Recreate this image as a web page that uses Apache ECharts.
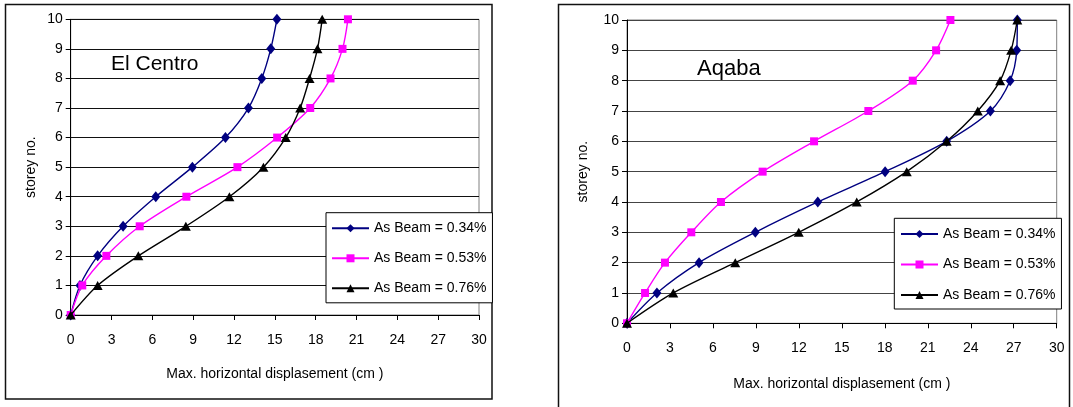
<!DOCTYPE html>
<html>
<head>
<meta charset="utf-8">
<script src="https://cdn.jsdelivr.net/npm/echarts@6/dist/echarts.min.js"></script>
<style>
html,body{margin:0;padding:0;background:#fff;}
#chart{width:1073px;height:407px;}
</style>
</head>
<body>
<div id="chart"></div>
<script>
// ---- data ----
const storeys = [0, 1, 2, 3, 4, 5, 6, 7, 8, 9, 10];
const seriesNames = ['As Beam = 0.34%', 'As Beam = 0.53%', 'As Beam = 0.76%'];
const elCentro034 = [0, 0.68, 1.98, 3.85, 6.25, 8.94, 11.37, 13.06, 14.04, 14.7, 15.15];
const elCentro053 = [0, 0.85, 2.62, 5.07, 8.5, 12.25, 15.17, 17.6, 19.09, 19.97, 20.37];
const elCentro076 = [0, 1.98, 4.97, 8.46, 11.66, 14.16, 15.8, 16.86, 17.55, 18.13, 18.48];
const aqaba034 = [0, 2.09, 5.03, 8.96, 13.32, 18.02, 22.32, 25.37, 26.75, 27.21, 27.25];
const aqaba053 = [0, 1.26, 2.65, 4.49, 6.56, 9.47, 13.06, 16.85, 19.95, 21.58, 22.58];
const aqaba076 = [0, 3.23, 7.56, 11.99, 16.04, 19.53, 22.32, 24.49, 26.05, 26.82, 27.25];
const xTicks = [0, 3, 6, 9, 12, 15, 18, 21, 24, 27, 30];
const yTicks = [0, 1, 2, 3, 4, 5, 6, 7, 8, 9, 10];
const chartTitles = ['El Centro', 'Aqaba'];
const xAxisTitle = 'Max. horizontal displasement (cm )';
const yAxisTitle = 'storey no.';

// ---- styles ----
const FONT = '"Liberation Sans", Arial, sans-serif';
const styles = [
  {color: '#000080', symbol: 'diamond', symbolSize: [9, 11]},
  {color: '#FF00FF', symbol: 'rect', symbolSize: 8},
  {color: '#000000', symbol: 'triangle', symbolSize: [10, 9]}
];

function pairs(xs) { return xs.map((x, i) => [x, storeys[i]]); }

function mkSeries(vals, gridIdx) {
  return vals.map((v, i) => ({
    name: seriesNames[i],
    type: 'line',
    xAxisIndex: gridIdx,
    yAxisIndex: gridIdx,
    data: pairs(v),
    smooth: 0.3,
    symbol: styles[i].symbol,
    symbolSize: styles[i].symbolSize,
    showAllSymbol: true,
    lineStyle: {color: styles[i].color, width: 1.4},
    itemStyle: {color: styles[i].color},
    animation: false,
    z: 3 + i
  }));
}

function xAx(gridIdx, gap) {
  return {
    gridIndex: gridIdx, type: 'value', min: xTicks[0], max: xTicks[xTicks.length - 1],
    interval: xTicks[1] - xTicks[0],
    axisLine: {show: true, lineStyle: {color: '#000', width: 1}},
    axisTick: {show: true, inside: false, length: 5, lineStyle: {color: '#000'}},
    axisLabel: {color: '#000', fontFamily: FONT, fontSize: 14, margin: 18},
    splitLine: {show: false},
    name: xAxisTitle, nameLocation: 'middle', nameGap: gap,
    nameTextStyle: {color: '#000', fontFamily: FONT, fontSize: 14}
  };
}
function yAx(gridIdx, gap, gridColor) {
  return {
    gridIndex: gridIdx, type: 'value', min: yTicks[0], max: yTicks[yTicks.length - 1],
    interval: yTicks[1] - yTicks[0],
    axisLine: {show: true, lineStyle: {color: '#000', width: 1}},
    axisTick: {show: true, inside: false, length: 5, lineStyle: {color: '#000'}},
    axisLabel: {color: '#000', fontFamily: FONT, fontSize: 14, margin: 8},
    splitLine: {show: true, lineStyle: {color: gridColor, width: 1}},
    name: yAxisTitle, nameLocation: 'middle', nameGap: gap, nameRotate: 90,
    nameTextStyle: {color: '#000', fontFamily: FONT, fontSize: 14}
  };
}

const legendBase = {
  orient: 'vertical',
  data: seriesNames,
  itemWidth: 37,
  itemHeight: 10,
  itemGap: 16,
  borderColor: '#000',
  borderWidth: 1,
  backgroundColor: '#fff',
  textStyle: {color: '#000', fontFamily: FONT, fontSize: 14},
  selectedMode: false
};

const chart = echarts.init(document.getElementById('chart'), null, {renderer: 'canvas'});
chart.setOption({
  backgroundColor: '#fff',
  animation: false,
  grid: [
    {left: 70.7, top: 19.3, width: 408.3, height: 295.7, show: true, borderColor: '#808080', borderWidth: 1, containLabel: false},
    {left: 627, top: 20, width: 429.7, height: 303.3, show: true, borderColor: '#808080', borderWidth: 1, containLabel: false}
  ],
  xAxis: [xAx(0, 52), xAx(1, 54)],
  yAxis: [yAx(0, 33, '#111'), yAx(1, 37, '#444')],
  legend: [
    Object.assign({}, legendBase, {left: 326, top: 212.7, padding: [8.6, 6, 7.5, 5]}),
    Object.assign({}, legendBase, {left: 894.3, top: 218.3, padding: [8.7, 6, 7, 5.7], itemGap: 16.5})
  ],
  series: [].concat(
    mkSeries([elCentro034, elCentro053, elCentro076], 0),
    mkSeries([aqaba034, aqaba053, aqaba076], 1)
  ),
  graphic: [
    {type: 'rect', shape: {x: 5.5, y: 4.5, width: 486.5, height: 394.5}, style: {fill: null, stroke: '#111', lineWidth: 1.5}, z: 0, silent: true},
    {type: 'rect', shape: {x: 558.5, y: 4.5, width: 511, height: 420}, style: {fill: null, stroke: '#111', lineWidth: 1.5}, z: 0, silent: true},
    {type: 'text', left: 111, top: 54, style: {text: chartTitles[0], fill: '#000', font: '21px ' + FONT}, z: 10},
    {type: 'text', left: 697, top: 58, style: {text: chartTitles[1], fill: '#000', font: '22px ' + FONT}, z: 10}
  ]
});
</script>
</body>
</html>
